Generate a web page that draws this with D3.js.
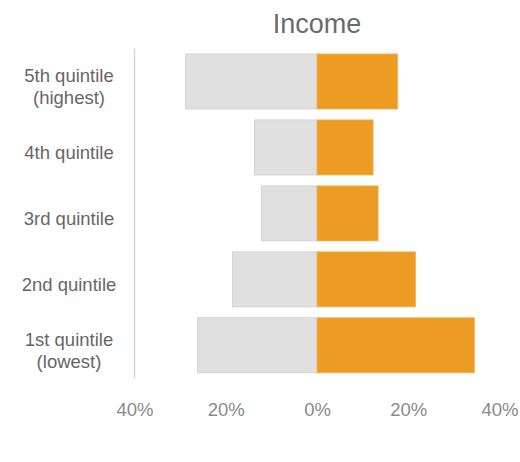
<!DOCTYPE html>
<html>
<head>
<meta charset="utf-8">
<script src="https://cdn.jsdelivr.net/npm/d3@7"></script>
<style>
  html, body { margin: 0; padding: 0; background: #fff; }
  svg { display: block; font-family: "Liberation Sans", Arial, sans-serif; }
</style>
</head>
<body>
<svg id="chart" width="520" height="462"></svg>
<script>
// Income quintiles, top to bottom
const categories = ["5th quintile|(highest)", "4th quintile", "3rd quintile", "2nd quintile", "1st quintile|(lowest)"];
// Share on the left side (drawn leftward from 0)
const leftValues = [28.8, 13.7, 12.2, 18.5, 26.2];
// Share on the right side (drawn rightward from 0)
const rightValues = [17.7, 12.3, 13.4, 21.6, 34.5];
const tickValues = [-40, -20, 0, 20, 40];
const title = "Income";

const svg = d3.select("#chart");

const x = d3.scaleLinear().domain([-40, 40]).range([134.5, 499.5]);
const y = d3.scaleBand()
  .domain(categories)
  .range([48.5, 378.3])
  .paddingInner(0.165)
  .paddingOuter(0.0825);

// Title
svg.append("text")
  .attr("x", x(0))
  .attr("y", 33)
  .attr("text-anchor", "middle")
  .attr("font-size", 27)
  .attr("fill", "#6b6b6b")
  .text(title);

// Left bars (gray)
svg.append("g").selectAll("rect")
  .data(categories)
  .join("rect")
  .attr("x", (d, i) => x(-leftValues[i]))
  .attr("y", d => y(d))
  .attr("width", (d, i) => x(0) - x(-leftValues[i]))
  .attr("height", y.bandwidth())
  .attr("fill", "#e1e0e0")
  .attr("stroke", "#cfcfcf")
  .attr("stroke-width", 0.8);

// Right bars (orange)
svg.append("g").selectAll("rect")
  .data(categories)
  .join("rect")
  .attr("x", x(0))
  .attr("y", d => y(d))
  .attr("width", (d, i) => x(rightValues[i]) - x(0))
  .attr("height", y.bandwidth())
  .attr("fill", "#ec9c23")
  .attr("stroke", "#f2b65c")
  .attr("stroke-width", 0.8);

// Vertical category axis line
svg.append("line")
  .attr("x1", 134.5).attr("x2", 134.5)
  .attr("y1", y.range()[0]).attr("y2", y.range()[1])
  .attr("stroke", "#d6d6d6")
  .attr("stroke-width", 1.5);

// Category labels
const labels = svg.append("g")
  .attr("font-size", 18.5)
  .attr("fill", "#666")
  .attr("text-anchor", "middle");

categories.forEach(c => {
  const lines = c.split("|");
  const cy = y(c) + y.bandwidth() / 2;
  const lh = 22;
  const t = labels.append("text")
    .attr("x", 69)
    .attr("y", cy - (lines.length - 1) * lh / 2 + 12);
  lines.forEach((ln, k) => {
    t.append("tspan").attr("x", 69).attr("dy", k === 0 ? 0 : lh).text(ln);
  });
});

// Bottom value axis
const xAxis = d3.axisBottom(x)
  .tickValues(tickValues)
  .tickFormat(d => Math.abs(d) + "%")
  .tickSize(0)
  .tickPadding(0);

const gx = svg.append("g")
  .attr("transform", "translate(0,403)")
  .call(xAxis);
gx.select(".domain").remove();
gx.selectAll("text")
  .attr("font-family", "Liberation Sans, Arial, sans-serif")
  .attr("font-size", 18.5)
  .attr("fill", "#8a8a8a")
  .attr("dy", "0.71em");
</script>
</body>
</html>
